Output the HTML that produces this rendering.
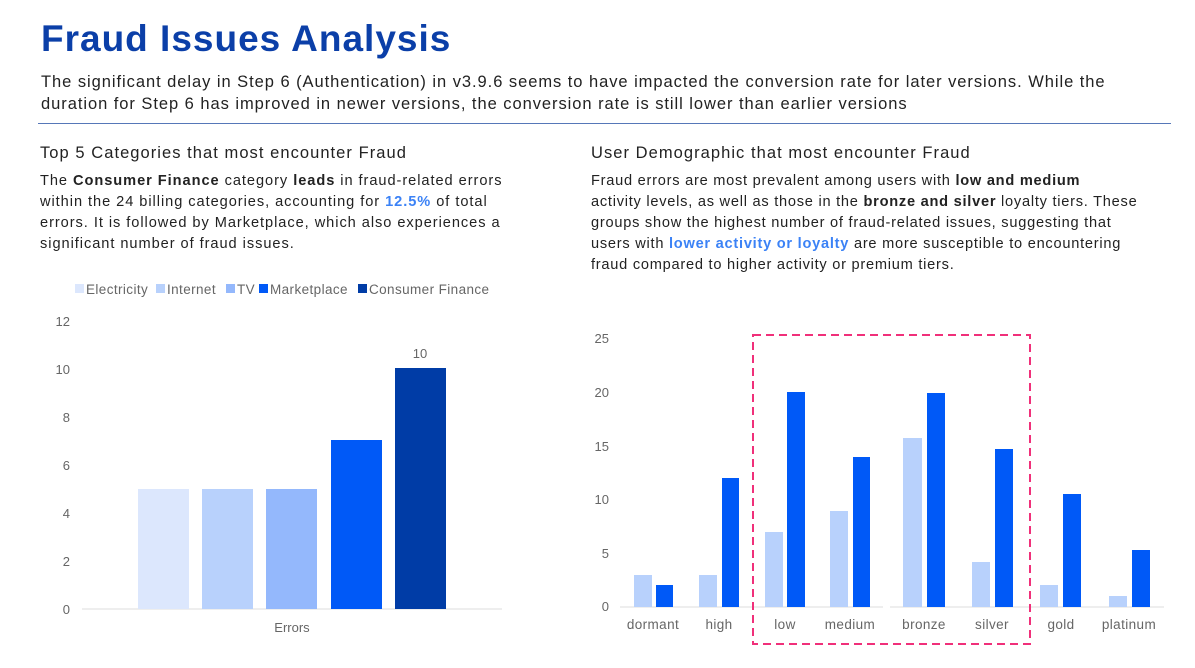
<!DOCTYPE html><html><head><style>
body{margin:0;width:1195px;height:668px;background:#fff;font-family:"Liberation Sans",sans-serif;color:#222;position:relative;overflow:hidden}
.a{position:absolute;white-space:nowrap}
h1{position:absolute;left:41px;top:18px;margin:0;font-size:37px;color:#0b3fa8;font-weight:bold;letter-spacing:1px}
.sub{font-size:16.5px;line-height:22px;color:#222;letter-spacing:0.95px}
.h2{font-size:16.5px;color:#222;letter-spacing:1.05px}
.p{font-size:14.6px;line-height:21px;color:#222;letter-spacing:0.95px}
b{font-weight:bold}.hl{color:#3b82f6;font-weight:bold}
</style></head><body>
<h1>Fraud Issues Analysis</h1>
<div class="a sub" style="left:41px;top:71px">The significant delay in Step 6 (Authentication) in v3.9.6 seems to have impacted the conversion rate for later versions. While the<br>duration for Step 6 has improved in newer versions, the conversion rate is still lower than earlier versions</div>
<div class="a" style="left:38px;top:123px;width:1133px;height:1px;background:#5677b8"></div>
<div class="a h2" style="left:40px;top:144px">Top 5 Categories that most encounter Fraud</div>
<div class="a p" style="left:40px;top:171px">The <b>Consumer Finance</b> category <b>leads</b> in fraud-related errors<br>within the 24 billing categories, accounting for <span class="hl">12.5%</span> of total<br>errors. It is followed by Marketplace, which also experiences a<br>significant number of fraud issues.</div>
<div class="a h2" style="left:591px;top:144px">User Demographic that most encounter Fraud</div>
<div class="a p" style="left:591px;top:171px;letter-spacing:0.75px">Fraud errors are most prevalent among users with <b>low and medium</b><br>activity levels, as well as those in the <b>bronze and silver</b> loyalty tiers. These<br>groups show the highest number of fraud-related issues, suggesting that<br>users with <span class="hl">lower activity or loyalty</span> are more susceptible to encountering<br>fraud compared to higher activity or premium tiers.</div>
<svg class="a" style="left:0;top:0" width="1195" height="668" font-family="Liberation Sans, sans-serif" font-size="13" fill="#666">
<g font-size="13.5" letter-spacing="0.4">
<rect x="75" y="284" width="9" height="9" fill="#dce7fd"/><text x="86" y="294">Electricity</text>
<rect x="156" y="284" width="9" height="9" fill="#b8d1fc"/><text x="167" y="294">Internet</text>
<rect x="226" y="284" width="9" height="9" fill="#94b8fc"/><text x="237" y="294">TV</text>
<rect x="259" y="284" width="9" height="9" fill="#0059f7"/><text x="270" y="294">Marketplace</text>
<rect x="358" y="284" width="9" height="9" fill="#003ca6"/><text x="369" y="294">Consumer Finance</text>
</g>
<g text-anchor="end"><text x="70" y="326">12</text><text x="70" y="374">10</text><text x="70" y="422">8</text><text x="70" y="470">6</text><text x="70" y="518">4</text><text x="70" y="566">2</text><text x="70" y="614">0</text></g>
<line x1="82" y1="609" x2="502" y2="609" stroke="#ddd"/>
<rect x="138" y="489" width="51" height="120" fill="#dce7fd"/>
<rect x="202" y="489" width="51" height="120" fill="#b8d1fc"/>
<rect x="266" y="489" width="51" height="120" fill="#94b8fc"/>
<rect x="331" y="440" width="51" height="169" fill="#0059f7"/>
<rect x="395" y="368" width="51" height="241" fill="#003ca6"/>
<text x="420" y="358" text-anchor="middle">10</text>
<text x="292" y="632" text-anchor="middle">Errors</text>
<g text-anchor="end"><text x="609" y="343">25</text><text x="609" y="397">20</text><text x="609" y="451">15</text><text x="609" y="504">10</text><text x="609" y="558">5</text><text x="609" y="611">0</text></g>
<line x1="620" y1="607" x2="883" y2="607" stroke="#ddd"/>
<line x1="890" y1="607" x2="1164" y2="607" stroke="#ddd"/>
<g fill="#b8d1fc">
<rect x="634" y="575" width="18" height="32"/><rect x="699" y="575" width="18" height="32"/><rect x="765" y="532" width="18" height="75"/><rect x="830" y="511" width="18" height="96"/><rect x="903" y="438" width="19" height="169"/><rect x="972" y="562" width="18" height="45"/><rect x="1040" y="585" width="18" height="22"/><rect x="1109" y="596" width="18" height="11"/></g>
<g fill="#0059f7">
<rect x="656" y="585" width="17" height="22"/><rect x="722" y="478" width="17" height="129"/><rect x="787" y="392" width="18" height="215"/><rect x="853" y="457" width="17" height="150"/><rect x="927" y="393" width="18" height="214"/><rect x="995" y="449" width="18" height="158"/><rect x="1063" y="494" width="18" height="113"/><rect x="1132" y="550" width="18" height="57"/></g>
<g text-anchor="middle" font-size="13.5" letter-spacing="0.4"><text x="653" y="629">dormant</text><text x="719" y="629">high</text><text x="785" y="629">low</text><text x="850" y="629">medium</text><text x="924" y="629">bronze</text><text x="992" y="629">silver</text><text x="1061" y="629">gold</text><text x="1129" y="629">platinum</text></g>
<rect x="753" y="335" width="277" height="309" fill="none" stroke="#f0307a" stroke-width="2" stroke-dasharray="8,5"/>
</svg>
</body></html>
